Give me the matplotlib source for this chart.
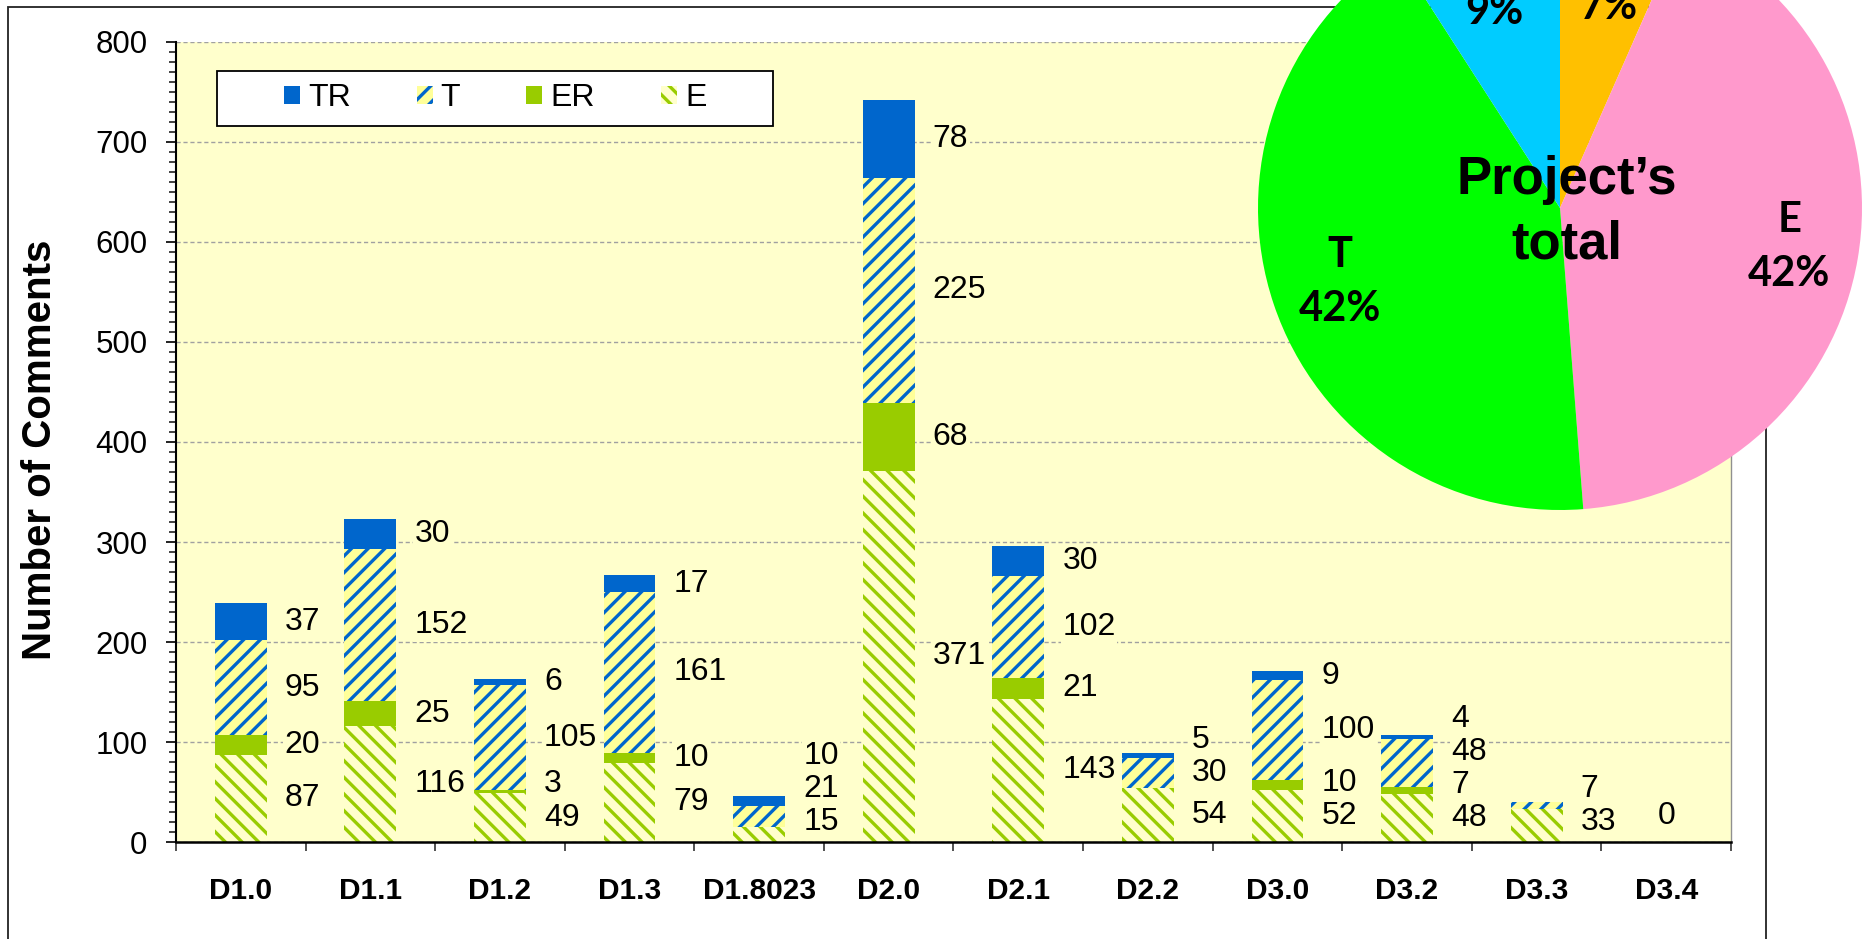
import numpy as np
import matplotlib
matplotlib.use("Agg")
import matplotlib.pyplot as plt
from matplotlib.patches import Rectangle
from matplotlib.ticker import MultipleLocator

# ---------------- data ----------------
categories = ["D1.0", "D1.1", "D1.2", "D1.3", "D1.8023", "D2.0",
              "D2.1", "D2.2", "D3.0", "D3.2", "D3.3", "D3.4"]
E_vals = [87, 116, 49, 79, 15, 371, 143, 54, 52, 48, 33, 0]
ER_vals = [20, 25, 3, 10, 0, 68, 21, 0, 10, 7, 0, 0]
T_vals = [95, 152, 105, 161, 21, 225, 102, 30, 100, 48, 7, 0]
TR_vals = [37, 30, 6, 17, 10, 78, 30, 5, 9, 4, 0, 0]
y_ticks = [0, 100, 200, 300, 400, 500, 600, 700, 800]
legend_labels = ["TR", "T", "ER", "E"]
pie_labels = ["ER", "E", "T", "TR"]
pie_values = [sum(ER_vals), sum(E_vals), sum(T_vals), sum(TR_vals)]
pie_center_text = "Project\u2019s\ntotal"

# ---------------- style ----------------
plt.rcParams['font.family'] = ['Liberation Sans', 'DejaVu Sans']
plt.rcParams['hatch.linewidth'] = 2.4

W, H = 1864, 939
fig = plt.figure(figsize=(W / 100, H / 100), dpi=100)
fig.patch.set_facecolor('white')

BLUE = '#0066CC'
GREEN = '#99CC00'
BG = '#FFFFCC'

# outer chart border
fig.add_artist(Rectangle((8 / W, -0.02), (1766 - 8) / W, (1 - 7 / H) + 0.02,
                         transform=fig.transFigure, fill=False,
                         edgecolor='#222222', linewidth=1.3, zorder=0.5))

ax = fig.add_axes([176 / W, (H - 842) / H, 1555 / W, 800 / H], zorder=1)
ax.set_facecolor(BG)
x = np.arange(len(categories))
bw = 0.4

E_arr = np.array(E_vals)
ER_arr = np.array(ER_vals)
T_arr = np.array(T_vals)
TR_arr = np.array(TR_vals)

bE = ax.bar(x, E_arr, bw, color=BG, edgecolor=GREEN, hatch='\\\\', linewidth=0)
bER = ax.bar(x, ER_arr, bw, bottom=E_arr, color=GREEN, linewidth=0)
bT = ax.bar(x, T_arr, bw, bottom=E_arr + ER_arr, color='#FFFF99',
            edgecolor=BLUE, hatch='//', linewidth=0)
bTR = ax.bar(x, TR_arr, bw, bottom=E_arr + ER_arr + T_arr, color=BLUE, linewidth=0)

ax.set_xlim(-0.5, len(categories) - 0.5)
ax.set_ylim(y_ticks[0], y_ticks[-1])
ax.set_yticks(y_ticks)
ax.yaxis.set_minor_locator(MultipleLocator(10))
ax.tick_params(axis='y', which='major', length=7.5, width=1.3, direction='out',
               labelsize=22.5, pad=13, color='#111111')
ax.tick_params(axis='y', which='minor', length=5, width=1.1, direction='out',
               color='#111111')
ax.set_xticks(x)
ax.set_xticklabels(categories, fontsize=21.5, fontweight='bold')
ax.set_xticks(np.arange(-0.5, len(categories), 1), minor=True)
ax.tick_params(axis='x', which='major', length=0, pad=25)
ax.tick_params(axis='x', which='minor', length=6.5, width=1.2, direction='out',
               color='#333333')

ax.yaxis.grid(True, which='major', linestyle=(0, (3, 2)), color='#A0A0A0',
              linewidth=1.0)
ax.set_axisbelow(True)
ax.spines['top'].set_visible(False)
ax.spines['right'].set_color('#909090')
ax.spines['right'].set_linewidth(1.0)
ax.spines['left'].set_linewidth(1.5)
ax.spines['bottom'].set_linewidth(1.8)
ax.spines['left'].set_color('black')
ax.spines['bottom'].set_color('black')

fig.text(40 / W, 1 - 450 / H, "Number of Comments", rotation=90,
         ha='center', va='center', fontsize=29, fontweight='bold')

# value labels beside each stack
gap = 33
floor = 20
lab_fs = 23
for i in range(len(categories)):
    segs = [E_vals[i], ER_vals[i], T_vals[i], TR_vals[i]]
    if sum(segs) == 0:
        ax.text(x[i], floor + 6, "0", ha='center', va='center', fontsize=lab_fs)
        continue
    base = 0
    prev = None
    for v in segs:
        if v > 0:
            c = base + v / 2
            y = max(c, floor) if prev is None else max(c, prev + gap)
            ax.text(x[i] + bw / 2 + 0.14, y, str(v), ha='left', va='center',
                    fontsize=lab_fs,
                    bbox=dict(boxstyle='square,pad=0.05', fc=BG, ec='none'))
            prev = y
        base += v

# legend with a separate white box
ax.add_patch(Rectangle((0.0264, 0.895), 0.3575, 0.0688, transform=ax.transAxes,
                       facecolor='white', edgecolor='black', linewidth=1.3,
                       zorder=4))
ax.legend(handles=[bTR, bT, bER, bE], labels=legend_labels, ncol=4,
          loc='center', bbox_to_anchor=(0.2052, 0.9294), frameon=False,
          fontsize=23, handlelength=0.5, handleheight=0.5,
          handletextpad=0.25, columnspacing=2.07, borderaxespad=0,
          borderpad=0).set_zorder(5)

# ---------------- pie ----------------
R = 302
cx, cy = 1560, 208
axp = fig.add_axes([(cx - R) / W, (H - cy - R) / H, 2 * R / W, 2 * R / H], zorder=2)
pie_colors = ['#FFC000', '#FF99CC', '#00FF00', '#00CCFF']
wedges, _ = axp.pie(pie_values, colors=pie_colors, startangle=90,
                    counterclock=False, wedgeprops=dict(linewidth=0))
axp.set_aspect('auto')
axp.set_xlim(-1, 1)
axp.set_ylim(-1, 1)
total = sum(pie_values)
for w, lab, v in zip(wedges, pie_labels, pie_values):
    ang = np.deg2rad((w.theta1 + w.theta2) / 2)
    d = 0.77
    axp.text(d * np.cos(ang), d * np.sin(ang), f"{lab}\n{v / total * 100:.0f}%",
             ha='center', va='center', fontsize=30, fontweight='bold',
             family=['Lato', 'DejaVu Sans'], linespacing=1.5)
axp.text(0.023, -0.013, pie_center_text, ha='center', va='center', fontsize=38,
         fontweight='bold', linespacing=1.37)

fig.savefig('out.png', dpi=100)
